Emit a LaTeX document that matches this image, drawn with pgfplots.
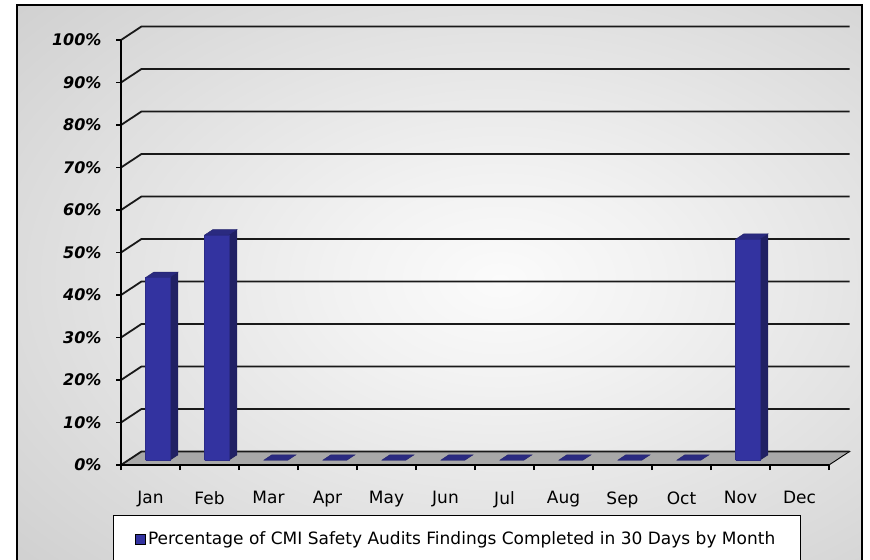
\documentclass[border=0pt]{standalone}
\usepackage{fontspec}
\setmainfont{DejaVu Sans}
\usepackage{pgfplots}
\pgfplotsset{compat=1.18}

\definecolor{barfront}{RGB}{51,51,160}
\definecolor{barside}{RGB}{33,33,100}
\definecolor{bartop}{RGB}{42,42,128}
\definecolor{floorgray}{RGB}{168,168,168}
\definecolor{bgout}{RGB}{190,190,190}
\definecolor{bgin}{RGB}{251,251,251}
\definecolor{bgmid}{RGB}{242,242,242}

\pgfdeclareradialshading{chartbg}{\pgfpoint{0bp}{0bp}}{%
  color(0bp)=(bgin); color(8bp)=(bgmid); color(46bp)=(bgout); color(72bp)=(bgout)}

\newcommand{\labfont}{\fontsize{17bp}{20bp}\selectfont}
\newcommand{\ylabfont}{\fontsize{16bp}{19bp}\selectfont\bfseries\itshape}

\begin{document}
\begin{tikzpicture}
\useasboundingbox (0,0) rectangle (870bp,560bp);
\clip (0,0) rectangle (870bp,560bp);
\fill[white] (0,0) rectangle (870bp,560bp);
\begin{scope}
  \clip (17bp,-10bp) rectangle (862bp,555bp);
  \shade[shading=chartbg] (0bp,-40bp) rectangle (1000bp,600bp);
\end{scope}
\draw[line width=2.5bp] (17bp,-10bp) rectangle (862bp,555bp);
\draw[fill=white, line width=0.8bp] (113bp,-5bp) rectangle (800bp,45bp);

% 3D part: floor, walls grid, bars
\begin{axis}[
  anchor=origin, at={(121bp,95bp)},
  x={(59bp,0bp)}, y={(20.5bp,13.5bp)}, z={(0bp,4.25bp)},
  xmin=0, xmax=12, ymin=0, ymax=1, zmin=0, zmax=100,
  hide axis, clip=false, no markers,
  gridl/.style={black!90, line width=1.8bp, line join=round},
  front/.style={fill=barfront, draw=barfront!85!black, line width=0.4bp},
  side/.style={fill=barside, draw=barside!85!black, line width=0.4bp},
  top/.style={fill=bartop, draw=bartop!85!black, line width=0.4bp},
]
\addplot3[fill=floorgray, draw=black, line width=0.9bp]
  coordinates {(0,0,0) (12,0,0) (12,1,0) (0,1,0) (0,0,0)};
\pgfplotsinvokeforeach{0,10,...,100}{
  \addplot3[gridl] coordinates {(0,0,#1) (0,1,#1) (12,1,#1)};
}
% side faces
\addplot3[side] coordinates {(0.705,0.35,0) (0.705,0.75,0) (0.705,0.75,43) (0.705,0.35,43) (0.705,0.35,0)};
\addplot3[side] coordinates {(1.705,0.35,0) (1.705,0.75,0) (1.705,0.75,53) (1.705,0.35,53) (1.705,0.35,0)};
\addplot3[side] coordinates {(10.705,0.35,0) (10.705,0.75,0) (10.705,0.75,52) (10.705,0.35,52) (10.705,0.35,0)};
% top faces
\addplot3[top] coordinates {(0.295,0.35,43) (0.705,0.35,43) (0.705,0.75,43) (0.295,0.75,43) (0.295,0.35,43)};
\addplot3[top] coordinates {(1.295,0.35,53) (1.705,0.35,53) (1.705,0.75,53) (1.295,0.75,53) (1.295,0.35,53)};
\addplot3[top] coordinates {(2.295,0.35,0) (2.705,0.35,0) (2.705,0.75,0) (2.295,0.75,0) (2.295,0.35,0)};
\addplot3[top] coordinates {(3.295,0.35,0) (3.705,0.35,0) (3.705,0.75,0) (3.295,0.75,0) (3.295,0.35,0)};
\addplot3[top] coordinates {(4.295,0.35,0) (4.705,0.35,0) (4.705,0.75,0) (4.295,0.75,0) (4.295,0.35,0)};
\addplot3[top] coordinates {(5.295,0.35,0) (5.705,0.35,0) (5.705,0.75,0) (5.295,0.75,0) (5.295,0.35,0)};
\addplot3[top] coordinates {(6.295,0.35,0) (6.705,0.35,0) (6.705,0.75,0) (6.295,0.75,0) (6.295,0.35,0)};
\addplot3[top] coordinates {(7.295,0.35,0) (7.705,0.35,0) (7.705,0.75,0) (7.295,0.75,0) (7.295,0.35,0)};
\addplot3[top] coordinates {(8.295,0.35,0) (8.705,0.35,0) (8.705,0.75,0) (8.295,0.75,0) (8.295,0.35,0)};
\addplot3[top] coordinates {(9.295,0.35,0) (9.705,0.35,0) (9.705,0.75,0) (9.295,0.75,0) (9.295,0.35,0)};
\addplot3[top] coordinates {(10.295,0.35,52) (10.705,0.35,52) (10.705,0.75,52) (10.295,0.75,52) (10.295,0.35,52)};
% front faces
\addplot3[front] coordinates {(0.295,0.35,0) (0.705,0.35,0) (0.705,0.35,43) (0.295,0.35,43) (0.295,0.35,0)};
\addplot3[front] coordinates {(1.295,0.35,0) (1.705,0.35,0) (1.705,0.35,53) (1.295,0.35,53) (1.295,0.35,0)};
\addplot3[front] coordinates {(10.295,0.35,0) (10.705,0.35,0) (10.705,0.35,52) (10.295,0.35,52) (10.295,0.35,0)};
\end{axis}

% 2D front plane: axis lines, ticks, labels, legend
\begin{axis}[
  anchor=origin, at={(121bp,95bp)},
  scale only axis, width=708bp, height=425bp,
  xmin=0, xmax=12, ymin=0, ymax=100,
  axis lines*=left,
  axis line style={black, line width=1.5bp},
  tick align=outside, major tick length=5bp,
  tick style={black, line width=1.2bp},
  xtick={0,1,...,12}, xticklabels={},
  extra x ticks={0.5,1.5,...,11.5},
  extra x tick labels={Jan,Feb,Mar,Apr,May,Jun,Jul,Aug,Sep,Oct,Nov,Dec},
  extra x tick style={grid=none, major tick length=0pt,
    xticklabel style={font=\labfont, yshift=-23bp}},
  ytick={0,10,...,100},
  yticklabels={0\%,10\%,20\%,30\%,40\%,50\%,60\%,70\%,80\%,90\%,100\%},
  yticklabel style={font=\ylabfont, xshift=-11bp},
  legend image code/.code={\draw[#1] (0bp,-5bp) rectangle (10bp,5bp);},
  legend style={draw=none, fill=none, at={(0.0198,-0.174)}, anchor=west,
    font=\labfont, inner sep=0pt, legend cell align=left},
]
\addlegendimage{fill=barfront, draw=black, line width=0.8bp}
\addlegendentry{Percentage of CMI Safety Audits Findings Completed in 30 Days by Month}
\end{axis}
\end{tikzpicture}
\end{document}
